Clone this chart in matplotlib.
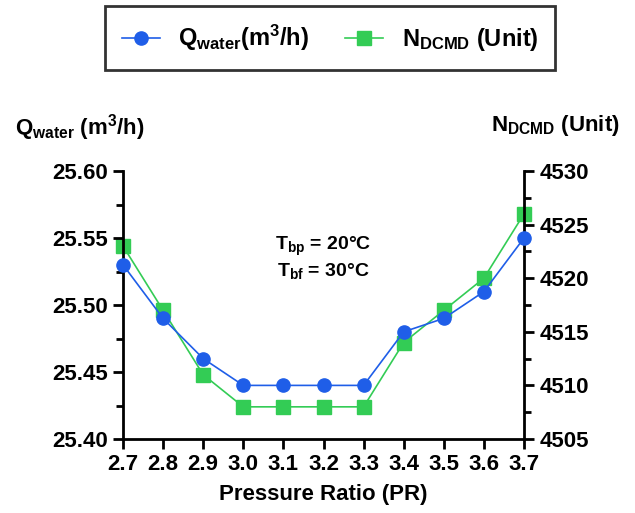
import matplotlib
matplotlib.use("Agg")
import matplotlib.pyplot as plt
from matplotlib.ticker import MultipleLocator, FormatStrFormatter

pr = [2.7, 2.8, 2.9, 3.0, 3.1, 3.2, 3.3, 3.4, 3.5, 3.6, 3.7]
q_water = [25.53, 25.49, 25.46, 25.44, 25.44, 25.44, 25.44, 25.48, 25.49, 25.51, 25.55]
n_dcmd = [4523, 4517, 4511, 4508, 4508, 4508, 4508, 4514, 4517, 4520, 4526]

plt.rcParams['font.family'] = ['Liberation Sans', 'DejaVu Sans']
plt.rcParams['font.weight'] = 'bold'
plt.rcParams['mathtext.fontset'] = 'custom'
plt.rcParams['mathtext.rm'] = 'Liberation Sans:bold'
plt.rcParams['mathtext.bf'] = 'Liberation Sans:bold'
plt.rcParams['mathtext.default'] = 'bf'

fig = plt.figure(figsize=(6.35, 5.13), dpi=100)
ax = fig.add_axes([123/635, 1-439/513, (524-123)/635, (439-171)/513])
ax2 = ax.twinx()

blue = '#1f5ee8'
green = '#33cc55'
l1, = ax.plot(pr, q_water, color=blue, lw=1.2, marker='o', ms=9.5, mfc=blue, mec=blue, zorder=3,
              clip_on=False, label=r'Q$_{\mathbf{water}}$(m$^{\mathbf{3}}$/h)')
l2, = ax2.plot(pr, n_dcmd, color=green, lw=1.2, marker='s', ms=9.5, mfc=green, mec=green, zorder=2,
               clip_on=False, label=r'N$_{\mathbf{DCMD}}$ (Unit)')
ax.set_zorder(ax2.get_zorder() + 1)
ax.patch.set_visible(False)

ax.set_xlim(2.7, 3.7)
ax.set_ylim(25.40, 25.60)
ax2.set_ylim(4505, 4530)
ax.set_xticks(pr)
ax.set_xticklabels([f'{v:.1f}' for v in pr])
ax.yaxis.set_major_locator(MultipleLocator(0.05))
ax.yaxis.set_minor_locator(MultipleLocator(0.025))
ax.yaxis.set_major_formatter(FormatStrFormatter('%.2f'))
ax2.yaxis.set_major_locator(MultipleLocator(5))
ax2.yaxis.set_minor_locator(MultipleLocator(2.5))

for a in (ax, ax2):
    a.spines['top'].set_visible(False)
    for s in a.spines.values():
        s.set_linewidth(2)
    a.tick_params(axis='both', which='major', length=7, width=2, labelsize=16, direction='out', pad=4)
    a.tick_params(axis='both', which='minor', length=5, width=2, direction='out')
ax.spines['right'].set_visible(False)
ax2.spines['left'].set_visible(False)
ax2.spines['bottom'].set_visible(False)
for lab in ax.get_xticklabels() + ax.get_yticklabels() + ax2.get_yticklabels():
    lab.set_fontweight('bold')

ax.set_xlabel('Pressure Ratio (PR)', fontsize=16, fontweight='bold', labelpad=6)
fig.text(15/635, 1-128/513, r'Q$_{\mathbf{water}}$ (m$^{\mathbf{3}}$/h)', fontsize=16, fontweight='bold',
         ha='left', va='center')
fig.text(620/635, 1-125/513, r'N$_{\mathbf{DCMD}}$ (Unit)', fontsize=16, fontweight='bold',
         ha='right', va='center')

ax.text(3.2, 25.535, r'T$_{\mathbf{bp}}$ = 20°C' + '\n' + r'T$_{\mathbf{bf}}$ = 30°C',
        fontsize=14, fontweight='bold', ha='center', va='center', linespacing=1.2)

leg = fig.legend(handles=[l1, l2], loc='center', bbox_to_anchor=(330/635, 1-38/513), ncol=2,
                 fontsize=17, frameon=True, fancybox=False, edgecolor='black',
                 handlelength=1.6, columnspacing=1.5, borderpad=0.7)
leg.get_frame().set_linewidth(2)
for t in leg.get_texts():
    t.set_fontweight('bold')

fig.savefig('out.png', dpi=100)
